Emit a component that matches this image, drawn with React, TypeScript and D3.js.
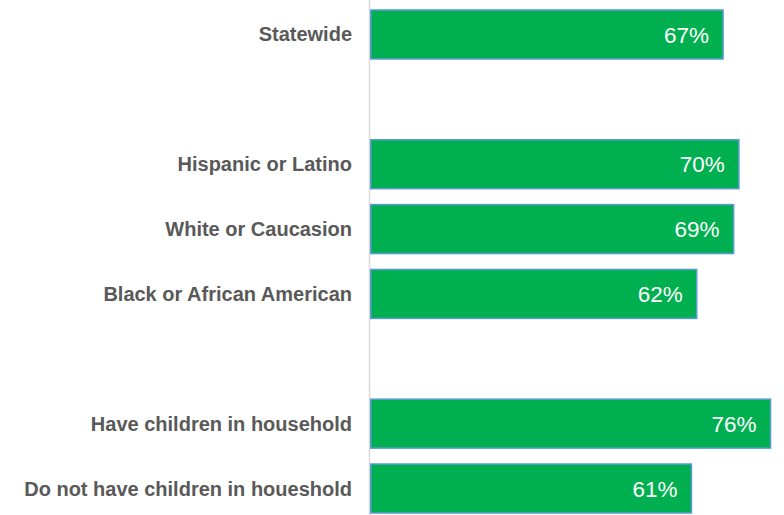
import React from "react";
import * as d3 from "d3";

const categories = [
  "Statewide",
  "",
  "Hispanic or Latino",
  "White or Caucasion",
  "Black or African American",
  " ",
  "Have children in household",
  "Do not have children in houeshold",
];
const values: (number | null)[] = [0.67, null, 0.70, 0.69, 0.62, null, 0.76, 0.61];

const W = 784;
const H = 515;

export default function App() {
  const x = d3.scaleLinear().domain([0, 1]).range([370, 370 + 527]);
  const pi = 0.245;
  const step = 64.86;
  const a = 10 - (step * pi) / 2;
  const y = d3
    .scaleBand<number>()
    .domain(d3.range(categories.length))
    .range([a, a + step * categories.length])
    .paddingInner(pi)
    .paddingOuter(pi / 2);
  const fmt = d3.format(".0%");

  return (
    <div style={{ position: "absolute", left: 0, top: 0 }}>
      <svg width={W} height={H} style={{ display: "block", background: "#fff" }}>
        <line x1={369.5} x2={369.5} y1={0} y2={H} stroke="#d9d9d9" strokeWidth={1.5} />
        {categories.map((c, i) => {
          const v = values[i];
          const yy = y(i)!;
          const bw = y.bandwidth();
          return (
            <g key={i}>
              {c.trim() !== "" && (
                <text
                  x={352}
                  y={yy + bw / 2}
                  dy="0.35em"
                  textAnchor="end"
                  fontFamily="Liberation Sans, Arial, sans-serif"
                  fontWeight="bold"
                  fontSize={20}
                  fill="#595959"
                >
                  {c}
                </text>
              )}
              {v != null && (
                <>
                  <rect
                    x={x(0) + 0.75}
                    y={yy}
                    width={x(v) - x(0) - 0.75}
                    height={bw}
                    fill="#00B050"
                    stroke="#5B9BD5"
                    strokeWidth={1.5}
                  />
                  <text
                    x={x(v) - 14}
                    y={yy + bw / 2}
                    dy="0.36em"
                    textAnchor="end"
                    fontFamily="Liberation Sans, Arial, sans-serif"
                    fontSize={22.5}
                    fill="#ffffff"
                  >
                    {fmt(v)}
                  </text>
                </>
              )}
            </g>
          );
        })}
      </svg>
    </div>
  );
}
